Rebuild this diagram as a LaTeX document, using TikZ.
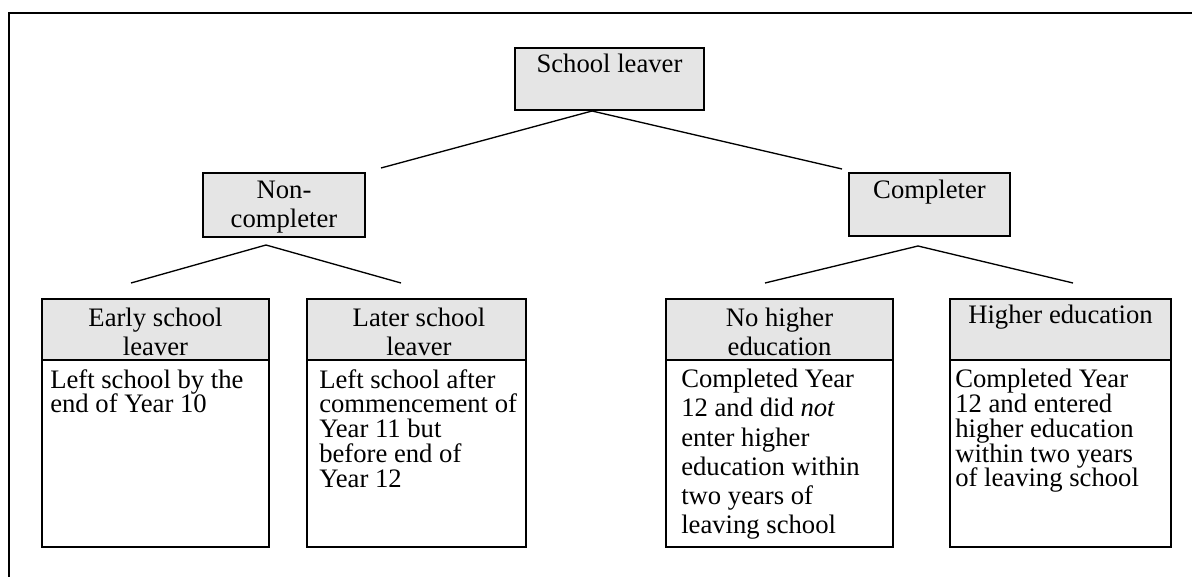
\documentclass[tikz,border=0pt]{standalone}
\usepackage{fontspec}
\setmainfont{Liberation Serif}
\definecolor{boxgray}{HTML}{E5E5E5}
\tikzset{
  graybox/.style={draw=black, line width=1.5pt, fill=boxgray, rectangle, inner sep=0pt},
  whitebox/.style={draw=black, line width=1.5pt, fill=white, rectangle, inner sep=0pt},
  lbl/.style={font=\fontsize{20}{21.5}\selectfont, inner sep=0pt, anchor=north, align=center},
  bodytxt/.style={font=\fontsize{20}{18.6}\selectfont, inner sep=0pt, anchor=north west, align=left},
  widetxt/.style={bodytxt, font=\fontsize{20}{21.9}\selectfont},
  link/.style={line width=1pt},
  framestyle/.style={line width=1.6pt}
}
\begin{document}
\begin{tikzpicture}[x=0.75pt,y=-0.75pt]
\useasboundingbox (0,0) rectangle (1192,577);
\draw[framestyle] (9,577) -- (9,13) -- (1192,13);

% top level
\node[graybox, minimum width=141.75pt, minimum height=46.5pt] (sl) at (609.5,79) {};
\node[lbl] (sl-t) at (609.5,54) {School leaver};

\node[graybox, minimum width=121.5pt, minimum height=48pt] (nc) at (284,205) {};
\node[lbl] (nc-t) at (284,181) {Non-\\completer};

\node[graybox, minimum width=120.75pt, minimum height=47.25pt] (cp) at (929.5,204.5) {};
\node[lbl] (cp-t) at (929.5,180) {Completer};

% leaf boxes
\node[graybox, minimum width=170.25pt, minimum height=45.75pt] (es) at (155.5,329.5) {};
\node[whitebox, minimum width=170.25pt, minimum height=140.25pt] (es-b) at (155.5,453.5) {};
\node[lbl] (es-t) at (155.5,308) {Early school\\leaver};
\node[bodytxt] (es-d) at (50,369) {Left school by the\\end of Year 10};

\node[graybox, minimum width=164.25pt, minimum height=45.75pt] (ls) at (416.5,329.5) {};
\node[whitebox, minimum width=164.25pt, minimum height=140.25pt] (ls-b) at (416.5,453.5) {};
\node[lbl] (ls-t) at (419,308) {Later school\\leaver};
\node[bodytxt] (ls-d) at (319,369) {Left school after\\commencement of\\Year 11 but\\before end of\\Year 12};

\node[graybox, minimum width=170.25pt, minimum height=45.75pt] (nh) at (779.5,329.5) {};
\node[whitebox, minimum width=170.25pt, minimum height=140.25pt] (nh-b) at (779.5,453.5) {};
\node[lbl] (nh-t) at (779.5,308) {No higher\\education};
\node[widetxt] (nh-d) at (681,369) {Completed Year\\12 and did \emph{not}\\enter higher\\education within\\two years of\\leaving school};

\node[graybox, minimum width=165.75pt, minimum height=45.75pt] (he) at (1060.5,329.5) {};
\node[whitebox, minimum width=165.75pt, minimum height=140.25pt] (he-b) at (1060.5,453.5) {};
\node[lbl] (he-t) at (1060.5,305) {Higher education};
\node[bodytxt] (he-d) at (955,369) {Completed Year\\12 and entered\\higher education\\within two years\\of leaving school};

% connector end points
\coordinate (sl-a) at (592,111);
\coordinate (nc-e) at (381,168);
\coordinate (cp-e) at (842,169);
\coordinate (nc-a) at (266,245);
\coordinate (es-e) at (131,283);
\coordinate (ls-e) at (401,283);
\coordinate (cp-a) at (918,246);
\coordinate (nh-e) at (765,283);
\coordinate (he-e) at (1073,283);

\draw[link] (sl-a) -- (nc-e);
\draw[link] (sl-a) -- (cp-e);
\draw[link] (nc-a) -- (es-e);
\draw[link] (nc-a) -- (ls-e);
\draw[link] (cp-a) -- (nh-e);
\draw[link] (cp-a) -- (he-e);
\end{tikzpicture}
\end{document}
